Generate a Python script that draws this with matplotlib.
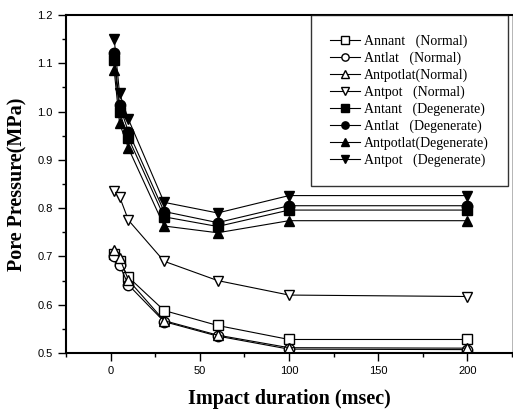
import matplotlib
matplotlib.use("Agg")
from matplotlib import pyplot as plt
from matplotlib.ticker import MultipleLocator

# Data
duration = [2, 5, 10, 30, 60, 100, 200]

annant_n = [0.705, 0.690, 0.657, 0.588, 0.557, 0.528, 0.528]
antlat_n = [0.700, 0.682, 0.641, 0.565, 0.535, 0.508, 0.507]
antpotlat_n = [0.713, 0.697, 0.651, 0.567, 0.537, 0.511, 0.510]
antpot_n = [0.836, 0.824, 0.775, 0.690, 0.650, 0.620, 0.617]
antant_d = [1.107, 0.999, 0.945, 0.782, 0.762, 0.796, 0.796]
antlat_d = [1.121, 1.013, 0.958, 0.793, 0.770, 0.805, 0.805]
antpotlat_d = [1.086, 0.976, 0.924, 0.763, 0.749, 0.774, 0.774]
antpot_d = [1.151, 1.038, 0.984, 0.812, 0.790, 0.826, 0.826]

series = [
    # label, values, marker, filled
    ['Annant   (Normal)', annant_n, 's', False],
    ['Antlat   (Normal)', antlat_n, 'o', False],
    ['Antpotlat(Normal)', antpotlat_n, '^', False],
    ['Antpot   (Normal)', antpot_n, 'v', False],
    ['Antant   (Degenerate)', antant_d, 's', True],
    ['Antlat   (Degenerate)', antlat_d, 'o', True],
    ['Antpotlat(Degenerate)', antpotlat_d, '^', True],
    ['Antpot   (Degenerate)', antpot_d, 'v', True],
]

fig = plt.figure(figsize=(5.13, 4.11), dpi=100)
ax = fig.add_axes([66/513, 1-353/411, 446/513, 338/411])

for label, vals, mk, filled in series:
    ax.plot(duration, vals, color='black', lw=0.8, marker=mk, markersize=7.5,
            markerfacecolor='black' if filled else 'white',
            markeredgecolor='black', markeredgewidth=1.0, label=label)

ax.set_xlim(-25, 225)
ax.set_ylim(0.5, 1.2)
ax.xaxis.set_major_locator(MultipleLocator(50))
ax.xaxis.set_minor_locator(MultipleLocator(25))
ax.yaxis.set_major_locator(MultipleLocator(0.1))
ax.yaxis.set_minor_locator(MultipleLocator(0.05))
ax.tick_params(which='major', direction='out', length=6, width=1, labelsize=8)
ax.tick_params(which='minor', direction='out', length=3, width=1)
for lab in ax.get_xticklabels() + ax.get_yticklabels():
    lab.set_family('Liberation Sans')
ax.yaxis.set_major_formatter(matplotlib.ticker.FormatStrFormatter('%.1f'))
for s in ['left', 'bottom', 'top']:
    ax.spines[s].set_linewidth(1.5)
ax.spines['right'].set_linewidth(0.5)
ax.spines['right'].set_color('#999999')

ax.set_xlabel('Impact duration (msec)', family='Liberation Serif',
              fontweight='bold', fontsize=14.5, labelpad=9)
ax.set_ylabel('Pore Pressure(MPa)', family='Liberation Serif',
              fontweight='bold', fontsize=14.5, labelpad=7)

leg = ax.legend(loc='upper right', bbox_to_anchor=(442/446, 1.0),
                borderaxespad=0, fancybox=False, edgecolor='black',
                prop={'family': 'Liberation Serif', 'size': 10},
                handlelength=2.1, labelspacing=0.25, borderpad=1.4,
                handletextpad=0.3, markerscale=0.7)
leg.get_frame().set_linewidth(1.0)

fig.savefig('out.png', dpi=100)
